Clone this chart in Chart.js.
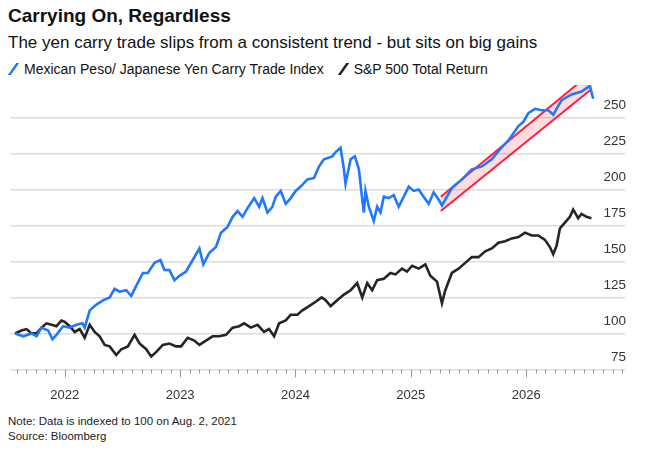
<!DOCTYPE html>
<html><head><meta charset="utf-8">
<script src="https://cdn.jsdelivr.net/npm/chart.js@4"></script>
<style>
body{margin:0;width:650px;height:451px;background:#fff;font-family:"Liberation Sans",Arial,sans-serif;color:#111;position:relative;overflow:hidden}
#t{position:absolute;left:8px;top:5px;font-size:19px;font-weight:bold}
#s{position:absolute;left:8px;top:33px;font-size:17px}
#lg{position:absolute;left:8px;top:61px;font-size:14px;white-space:nowrap}
.ic{display:inline-block;width:3px;height:12px;transform:skewX(-35deg);margin:0 9px 0 4px;vertical-align:-1px}
#f{position:absolute;left:8px;top:414px;font-size:11.5px;line-height:15px;color:#222}
#c{position:absolute;left:0;top:76px;width:650px;height:337px}
</style></head><body>
<div id="t">Carrying On, Regardless</div>
<div id="s">The yen carry trade slips from a consistent trend - but sits on big gains</div>
<div id="lg"><span class="ic" style="background:#1f78ff"></span>Mexican Peso/ Japanese Yen Carry Trade Index<span class="ic" style="background:#222;margin-left:18px"></span>S&amp;P 500 Total Return</div>
<div id="c"><canvas id="cv"></canvas></div>
<div id="f">Note: Data is indexed to 100 on Aug. 2, 2021<br>Source: Bloomberg</div>
<script>
const seriesNames=["Mexican Peso/ Japanese Yen Carry Trade Index","S&P 500 Total Return"];
const yTicks=[75,100,125,150,175,200,225,250];
const xYears=[2022,2023,2024,2025,2026];
const carryX=[2021.568,2021.640,2021.712,2021.755,2021.798,2021.856,2021.893,2021.928,2021.985,2022.043,2022.101,2022.152,2022.173,2022.216,2022.274,2022.331,2022.389,2022.432,2022.475,2022.533,2022.576,2022.619,2022.677,2022.720,2022.778,2022.829,2022.864,2022.907,2022.951,2022.994,2023.051,2023.109,2023.167,2023.201,2023.253,2023.311,2023.354,2023.411,2023.455,2023.498,2023.541,2023.584,2023.642,2023.685,2023.714,2023.757,2023.800,2023.829,2023.872,2023.916,2023.959,2024.002,2024.045,2024.103,2024.161,2024.204,2024.247,2024.319,2024.348,2024.391,2024.420,2024.434,2024.478,2024.515,2024.550,2024.579,2024.593,2024.607,2024.636,2024.679,2024.708,2024.737,2024.766,2024.809,2024.852,2024.895,2024.939,2024.982,2025.025,2025.068,2025.111,2025.155,2025.198,2025.241,2025.270,2025.356,2025.443,2025.529,2025.616,2025.702,2025.774,2025.846,2025.933,2025.976,2026.019,2026.077,2026.134,2026.192,2026.235,2026.307,2026.394,2026.480,2026.552,2026.581];
const carryY=[100,98,100,98,104,102,96,99,105,104,106,107,104,116,120,123,125,131,129,130,126,133,142,142,149,151,144,144,137,140,143,151,159,148,156,160,170,174,181,185,181,187,194,188,194,184,188,195,199,190,194,199,202,207,208,216,221,223,226,229,214,204,221,223,214,193,184,199,188,178,188,184,195,194,196,188,195,202,199,200,195,190,198,193,189,201,207,214,216,221,228,234,244,247,253,256,255,255,252,262,266,268,272,263];
const spxX=[2021.568,2021.625,2021.668,2021.712,2021.755,2021.798,2021.841,2021.885,2021.928,2021.971,2022.000,2022.043,2022.086,2022.129,2022.173,2022.216,2022.259,2022.302,2022.346,2022.389,2022.446,2022.490,2022.547,2022.605,2022.648,2022.706,2022.749,2022.792,2022.850,2022.907,2022.965,2023.008,2023.066,2023.123,2023.167,2023.224,2023.282,2023.339,2023.397,2023.455,2023.512,2023.555,2023.613,2023.671,2023.728,2023.771,2023.815,2023.858,2023.916,2023.959,2024.017,2024.060,2024.118,2024.175,2024.227,2024.262,2024.305,2024.362,2024.420,2024.478,2024.535,2024.579,2024.622,2024.665,2024.708,2024.766,2024.823,2024.867,2024.924,2024.967,2025.011,2025.068,2025.126,2025.169,2025.227,2025.270,2025.299,2025.356,2025.414,2025.472,2025.529,2025.587,2025.645,2025.702,2025.760,2025.817,2025.875,2025.933,2025.990,2026.048,2026.105,2026.163,2026.206,2026.235,2026.264,2026.293,2026.336,2026.379,2026.408,2026.451,2026.480,2026.523,2026.566];
const spxY=[100,102,103,100,100,104,107,106,105,109,108,105,101,103,97,106,101,98,92,91,85,89,91,99,93,89,84,87,92,93,91,91,97,95,92,95,98,98,99,104,105,107,104,106,101,103,98,107,109,113,113,116,119,122,125,123,119,123,127,130,135,125,135,130,137,138,142,141,145,143,147,145,148,140,136,121,130,142,145,149,153,153,157,159,163,164,166,167,170,168,168,165,160,155,161,173,177,181,186,180,183,181,180];
const channelX=[2025.26,2026.57];
const channelUpperY=[195,281.5];
const channelLowerY=[185,270];
const pts=(xs,ys)=>xs.map((x,i)=>({x,y:ys[i]}));
const minorTicks={id:'minor',afterDraw(c){const s=c.scales.x,ctx=c.ctx,b=c.chartArea.bottom;ctx.save();ctx.strokeStyle='#999';ctx.lineWidth=1;
for(let m=Math.ceil(s.min*12);m<=s.max*12;m++){const px=Math.round(s.getPixelForValue(m/12))+0.5;const len=m%12===0?8:4;ctx.beginPath();ctx.moveTo(px,b);ctx.lineTo(px,b+len);ctx.stroke();}
ctx.restore();}};
new Chart(document.getElementById('cv'),{type:'line',
data:{datasets:[
{label:'upper',data:pts(channelX,channelUpperY),borderColor:'#ff1f3d',borderWidth:2,pointRadius:0,fill:false,order:3},
{label:'lower',data:pts(channelX,channelLowerY),borderColor:'#ff1f3d',borderWidth:2,pointRadius:0,fill:'-1',backgroundColor:'rgba(255,60,80,0.18)',order:3},
{label:seriesNames[1],data:pts(spxX,spxY),borderColor:'#252525',borderWidth:2.6,pointRadius:0,tension:0,order:2},
{label:seriesNames[0],data:pts(carryX,carryY),borderColor:'#1f78ff',borderWidth:2.6,pointRadius:0,tension:0,order:1}
]},
options:{animation:false,responsive:true,maintainAspectRatio:false,
layout:{padding:{left:10,right:23,top:0,bottom:0}},
plugins:{legend:{display:false},tooltip:{enabled:false}},
scales:{
x:{type:'linear',min:2021.525,max:2026.857,afterBuildTicks:a=>{a.ticks=xYears.map(v=>({value:v}));},
grid:{display:false,drawOnChartArea:false},border:{display:false},
ticks:{color:'#333',font:{family:'Liberation Sans',size:13},padding:10,maxRotation:0,callback:v=>String(v)}},
y:{position:'right',min:75,max:272.5,afterBuildTicks:a=>{a.ticks=yTicks.map(v=>({value:v}));},
grid:{color:'#dcdcdc',lineWidth:1.5,drawTicks:false},border:{display:false},
ticks:{mirror:true,padding:1,labelOffset:-12,color:'#333',font:{family:'Liberation Sans',size:13.5}}}
}},plugins:[minorTicks]});
</script></body></html>
